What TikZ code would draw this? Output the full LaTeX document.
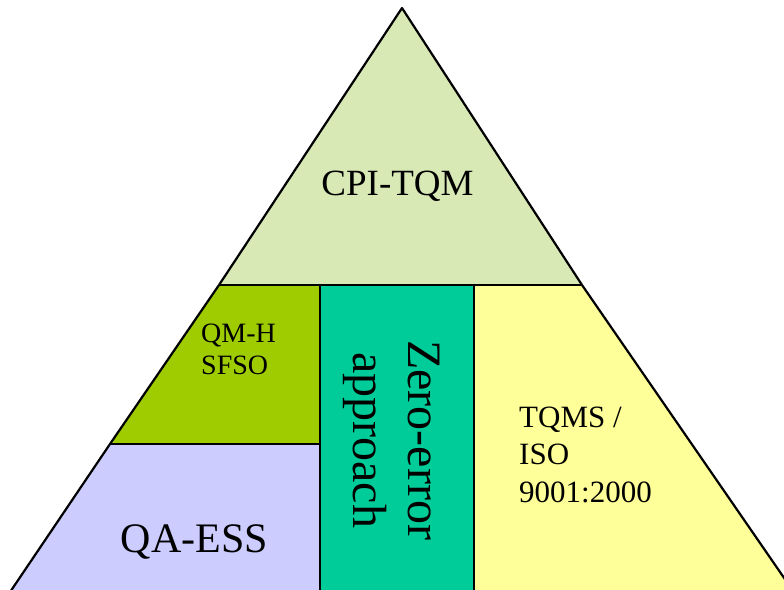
\documentclass[tikz,border=0pt]{standalone}
\usepackage{fontspec}
\setmainfont{Liberation Serif}
\definecolor{topgreen}{HTML}{D8E9B6}
\definecolor{midgreen}{HTML}{9FCC00}
\definecolor{teal}{HTML}{00CC99}
\definecolor{lavender}{HTML}{CCCCFF}
\definecolor{paleyellow}{HTML}{FFFF99}
\tikzset{
  edge/.style={draw=black, line width=2.2pt, line join=round},
  lbl/.style={inner sep=0pt, text=black},
}
\begin{document}
\begin{tikzpicture}[x=1pt,y=-1pt]
\useasboundingbox (0,0) rectangle (784,589);
\clip (0,0) rectangle (784,589);
% key points
\coordinate (apex) at (402,8);
\coordinate (tl) at (219,285);
\coordinate (tr) at (582,285);
\coordinate (ml) at (110,444);
\coordinate (bl) at (12,589);
\coordinate (br) at (792,589);
% lavender
\fill[lavender] (ml) -- (320,444) -- (320,600) -- (4,600) -- (bl) -- cycle;
% mid green
\fill[midgreen] (tl) -- (320,285) -- (320,444) -- (ml) -- cycle;
% yellow
\fill[paleyellow] (474,285) -- (tr) -- (800,600) -- (474,600) -- cycle;
% top triangle
\fill[topgreen] (apex) -- (tl) -- (tr) -- cycle;
% teal
\filldraw[fill=teal, draw=black, line width=1.7pt] (320,285) rectangle (474,600);
% outlines
\draw[edge] (tl) -- (apex) -- (tr);
\draw[edge] (tl) -- (tr);
\draw[edge] (tl) -- (ml) -- (4,601);
\draw[edge] (tr) -- (800,601);
\draw[edge] (ml) -- (320,444);
% labels
\node[lbl, anchor=base, font=\fontsize{37}{40}\selectfont] (cpi) at (397.5,195) {CPI-TQM};
\node[lbl, anchor=base, font=\fontsize{42}{46}\selectfont] (qa) at (194.5,552) {QA-ESS};
\node[lbl, anchor=base west, font=\fontsize{28}{32}\selectfont] (qm) at (201,342) {QM-H};
\node[lbl, anchor=base west, font=\fontsize{28}{32}\selectfont] (sf) at (201,374) {SFSO};
\node[lbl, anchor=base west, font=\fontsize{31}{36}\selectfont] (tq) at (519,427) {TQMS /};
\node[lbl, anchor=base west, font=\fontsize{31}{36}\selectfont] (iso) at (519,464) {ISO};
\node[lbl, anchor=base west, font=\fontsize{31}{36}\selectfont] (num) at (519,502) {9001:2000};
\node[lbl, anchor=base west, rotate=-90, font=\fontsize{48}{52}\selectfont] (ze) at (408,340) {Zero-error};
\node[lbl, anchor=base west, rotate=-90, font=\fontsize{48}{52}\selectfont] (ap) at (353,352) {approach};
\end{tikzpicture}
\end{document}
